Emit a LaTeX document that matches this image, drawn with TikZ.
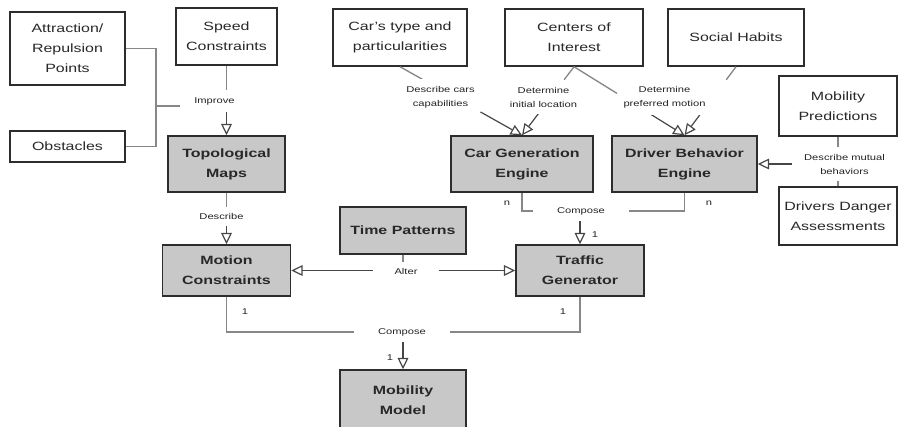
\documentclass[tikz,border=0pt]{standalone}
\usepackage{fontspec}
\setmainfont{Liberation Sans}[FakeStretch=1.33]
\usetikzlibrary{arrows.meta,calc}

\tikzset{every picture/.style={line width=0.75pt}}
\tikzset{
  sz/.style 2 args={minimum width=#1*0.75pt, minimum height=#2*0.75pt},
  whitebox/.style={draw={rgb, 255:red, 45; green, 45; blue, 45 }, line width=1.1pt, fill=white, inner sep=0pt, align=center,
    text={rgb, 255:red, 40; green, 40; blue, 40 }, font=\fontsize{9}{15}\selectfont},
  graybox/.style={whitebox, fill={rgb, 255:red, 200; green, 200; blue, 200 }, font=\fontsize{9}{15}\selectfont\bfseries},
  lbl/.style={fill=white, inner xsep=3pt, inner ysep=5pt, align=center, text={rgb, 255:red, 35; green, 35; blue, 35 },
    font=\fontsize{6.3}{10.5}\selectfont},
  mult/.style={inner sep=1pt, text={rgb, 255:red, 35; green, 35; blue, 35 }, font=\fontsize{6.3}{8}\selectfont},
  conn/.style={draw={rgb, 255:red, 135; green, 135; blue, 135 }, line width=1pt},
  arr/.style={draw={rgb, 255:red, 70; green, 70; blue, 70 }, line width=0.9pt, -{Triangle[open,length=8.5pt,width=8pt]}},
}

\begin{document}
\begin{tikzpicture}[x=0.75pt,y=0.75pt,yscale=-1,xscale=1]
\useasboundingbox (0,0) rectangle (900,426);

%Shape: Rectangle [id:attr]
\node [whitebox, sz={115}{73}] (attr) at (67.5,48.5) {Attraction/\\Repulsion\\Points};
%Shape: Rectangle [id:obst]
\node [whitebox, sz={115}{31}] (obst) at (67.5,146.5) {Obstacles};
%Shape: Rectangle [id:speed]
\node [whitebox, sz={101}{57}] (speed) at (226.5,36.5) {Speed\\Constraints};
%Shape: Rectangle [id:topo]
\node [graybox, sz={117}{56}] (topo) at (226.5,164) {Topological\\Maps};
%Shape: Rectangle [id:motion]
\node [graybox, sz={128}{51}] (motion) at (226.5,270.5) {Motion\\Constraints};
%Shape: Rectangle [id:time]
\node [graybox, sz={126}{47}] (time) at (403,230.5) {Time Patterns};
%Shape: Rectangle [id:traffic]
\node [graybox, sz={128}{51}] (traffic) at (580,270.5) {Traffic\\Generator};
%Shape: Rectangle [id:mobility]
\node [graybox, sz={126}{60}] (mobility) at (403,400) {Mobility\\Model};
%Shape: Rectangle [id:cartype]
\node [whitebox, sz={134}{57}] (cartype) at (400,37.5) {Car's type and\\particularities};
%Shape: Rectangle [id:centers]
\node [whitebox, sz={138}{57}] (centers) at (574,37.5) {Centers of\\Interest};
%Shape: Rectangle [id:social]
\node [whitebox, sz={136}{57}] (social) at (736,37.5) {Social Habits};
%Shape: Rectangle [id:mobpred]
\node [whitebox, sz={118}{60}] (mobpred) at (838,106) {Mobility\\Predictions};
%Shape: Rectangle [id:danger]
\node [whitebox, sz={118}{58}] (danger) at (838,216) {Drivers Danger\\Assessments};
%Shape: Rectangle [id:cargen]
\node [graybox, sz={142}{56}] (cargen) at (522,164) {Car Generation\\Engine};
%Shape: Rectangle [id:driver]
\node [graybox, sz={145}{56}] (driver) at (684.5,164) {Driver Behavior\\Engine};

% Junctions
\coordinate (fork) at (156,106);
\coordinate (impJ) at (226.5,106);
\coordinate (descJ) at (226.5,216);
\coordinate (alterJ) at (403,270.5);
\coordinate (compJ) at (403,332);
\coordinate (compTJ) at (580,211);
\coordinate (mutJ) at (838,164);

%Connector: Improve
\draw [conn] (attr.east) -| (fork) |- (obst.east);
\draw [conn] (fork) -- (impJ);
\draw [conn] (speed) -- (impJ);
\draw [arr] (impJ) -- (topo);
%Connector: Describe
\draw [conn] (topo) -- (descJ);
\draw [arr] (descJ) -- (motion);
%Connector: Alter
\draw [conn] (time) -- (alterJ);
\draw [arr] (alterJ) -- (motion);
\draw [arr] (alterJ) -- (traffic);
%Connector: Compose (model)
\draw [conn] (motion) |- (compJ);
\draw [conn] (traffic) |- (compJ);
\draw [arr] (compJ) -- (mobility);
%Connector: Compose (generator)
\draw [conn] (cargen) |- (compTJ);
\draw [conn] (driver) |- (compTJ);
\draw [arr] (compTJ) -- (traffic);
%Connector: Describe mutual behaviors
\draw [conn] (mobpred) -- (danger);
\draw [arr] (mutJ) -- (driver);
%Connector: diagonals
\draw [conn] (cartype.south) -- ($(cartype.south)!0.19!(cargen.north)$);
\draw [arr] ($(cartype.south)!0.66!(cargen.north)$) -- (cargen.north);
\draw [conn] (centers.south) -- ($(centers.south)!0.19!(cargen.north)$);
\draw [arr] ($(centers.south)!0.66!(cargen.north)$) -- (cargen.north);
\draw [conn] (centers.south) -- ($(centers.south)!0.39!(driver.north)$);
\draw [arr] ($(centers.south)!0.66!(driver.north)$) -- (driver.north);
\draw [conn] (social.south) -- ($(social.south)!0.19!(driver.north)$);
\draw [arr] ($(social.south)!0.66!(driver.north)$) -- (driver.north);

% Text Node
\node [lbl, inner xsep=11pt, inner ysep=5.5pt] (improve) at (214.5,101) {Improve};
% Text Node
\node [lbl] (describe) at (221.5,216.5) {Describe};
% Text Node
\node [lbl, inner xsep=16pt] (alter) at (406,271.5) {Alter};
% Text Node
\node [lbl, inner xsep=18pt] (compose) at (402,332) {Compose};
% Text Node
\node [lbl, inner xsep=18pt] (composetop) at (581,211) {Compose};
% Text Node
\node [lbl] (desccars) at (440.5,97) {Describe cars\\capabilities};
% Text Node
\node [lbl] (initloc) at (543.5,97) {Determine\\initial location};
% Text Node
\node [lbl] (prefmot) at (664.5,97) {Determine\\preferred motion};
% Text Node
\node [lbl, inner xsep=9pt] (mutual) at (844.5,164) {Describe mutual\\behaviors};
% Text Node
\node [mult] (ncar) at (507,203) {n};
\node [mult] (ndriver) at (709,203) {n};
\node [mult] (onetraffic) at (595,235) {1};
\node [mult] (onemotion) at (245,312) {1};
\node [mult] (onegen) at (563,312) {1};
\node [mult] (onemodel) at (390,358) {1};
\end{tikzpicture}
\end{document}
